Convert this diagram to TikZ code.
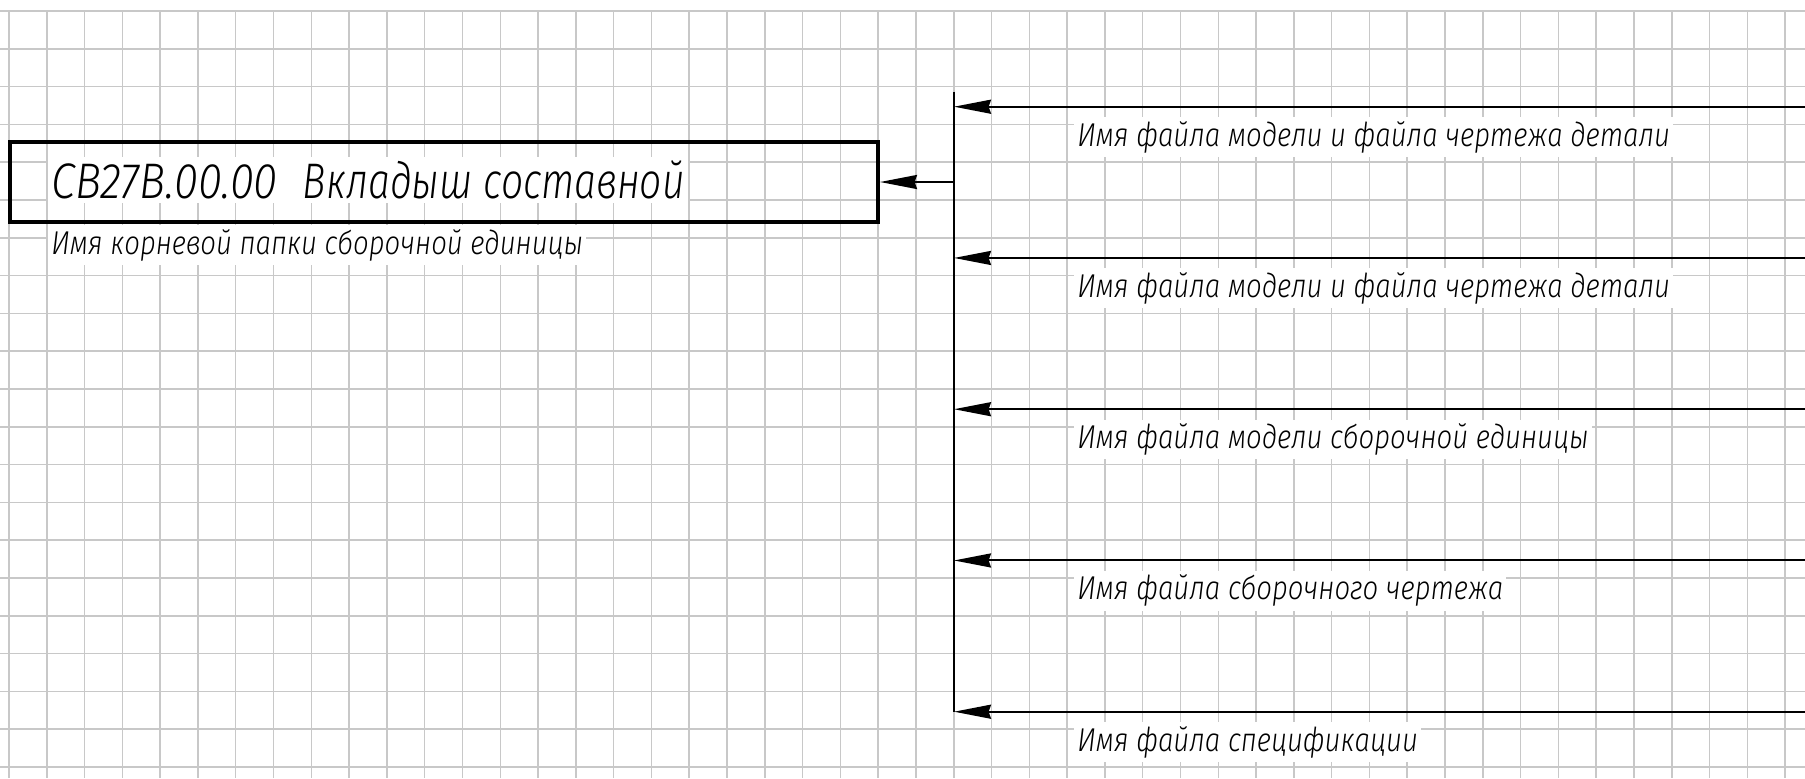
\documentclass[tikz,border=0pt]{standalone}
\usepackage{fontspec}
\newfontfamily\gostfont{Fira Sans}[UprightFont={* Light Italic},FakeStretch=0.835]
\newfontfamily\gostbig{Fira Sans}[UprightFont={* Light Italic},FakeStretch=0.8]
\usetikzlibrary{arrows.meta}

\begin{document}
\begin{tikzpicture}[x=0.5pt,y=0.5pt,yscale=-1,xscale=1,
  gridline/.style={draw={rgb,255:red,200;green,200;blue,200},line width=0.75pt},
  wire/.style={line width=1pt},
  feed/.style={wire,-{Stealth[length=18.5pt,width=7pt,inset=1.2pt]}},
  unitbox/.style={draw,line width=2pt,minimum width=434pt,minimum height=40pt,inner sep=0pt},
  caption/.style={fill=white,inner xsep=1.5pt,inner ysep=2pt,anchor=west,font=\gostfont\fontsize{16.5}{18}\selectfont}]
\useasboundingbox (0,0) rectangle (1805,778);
\fill[white] (0,0) rectangle (1805,778);

% Grid
\foreach \i in {0,...,47} \draw[gridline] ({9+37.79*\i},11) -- ({9+37.79*\i},778);
\foreach \j in {0,...,20} \draw[gridline] (0,{11+37.8*\j}) -- (1805,{11+37.8*\j});

%Shape: Rectangle
\node[unitbox] (unit) at (444,182) {};
% Text Node
\node[caption,font=\gostbig\fontsize{25}{28}\selectfont] (unitname) at (48,180)
  {\scalebox{1.09}[1]{СВ27В.00.00}\hspace{0.5em}\scalebox{0.976}[1]{Вкладыш составной}};
% Text Node
\node[caption] (rootname) at (48,245) {Имя корневой папки сборочной единицы};

%Straight Lines
\coordinate (bustop) at (954,91.7);
\coordinate (busbot) at (954,711.7);
\draw[wire] (bustop) -- (busbot);
\coordinate (tapunit) at (954,182);
\draw[feed] (tapunit) -- (unit.east);

%Straight Lines and Text Nodes
\foreach \k/\txt in {0/{Имя файла модели и файла чертежа детали},
                     1/{Имя файла модели и файла чертежа детали},
                     2/{Имя файла модели сборочной единицы},
                     3/{Имя файла сборочного чертежа},
                     4/{Имя файла спецификации}} {
  \coordinate (src\k) at (1805,{106.7+151.25*\k});
  \coordinate (tap\k) at (954,{106.7+151.25*\k});
  \draw[feed] (src\k) -- (tap\k);
  \node[caption] (file\k) at (1074,{137+151.25*\k}) {\txt};
}

\end{tikzpicture}
\end{document}
